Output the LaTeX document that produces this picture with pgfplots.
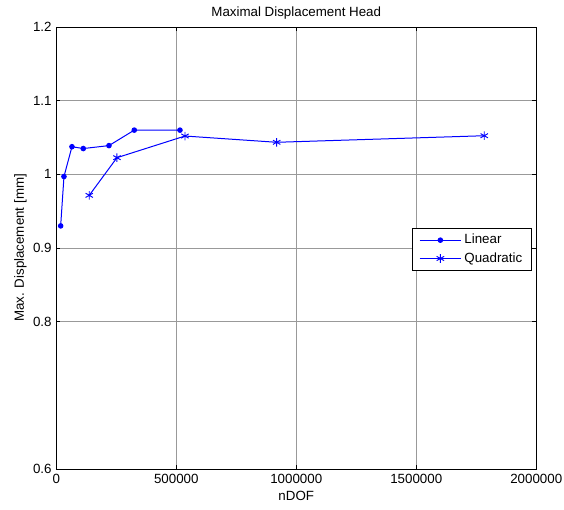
\documentclass[border=0pt]{standalone}
\usepackage{fontspec}
\setmainfont{Liberation Sans}
\usepackage{pgfplots}
\pgfplotsset{compat=1.18}

% Mesh convergence: maximal head displacement vs. number of DOF
\pgfplotstableread{
ndof    disp
18300   0.930
32100   0.997
65400   1.0375
112500  1.035
219600  1.039
325000  1.060
515400  1.060
}\linear

\pgfplotstableread{
ndof    disp
137500  0.9715
252900  1.0226
536300  1.052
918300  1.0435
1783300 1.0524
}\quadratic

\begin{document}
\begin{tikzpicture}
\begin{axis}[
  scale only axis,
  width=360pt, height=331.5pt,
  xmin=0, xmax=2000000,
  ymin=0.6, ymax=1.2,
  xtick={0,500000,1000000,1500000,2000000},
  xticklabels={0,500000,1000000,1500000,2000000},
  ytick={0.6,0.8,0.9,1,1.1,1.2},
  yticklabels={0.6,0.8,0.9,1,1.1,1.2},
  scaled x ticks=false,
  tick align=inside,
  xtick pos=both, ytick pos=both,
  major tick length=3pt,
  tick style={black, line width=0.5pt},
  grid=major,
  major grid style={gray!80, line width=0.5pt},
  axis line style={black, line width=0.7pt},
  /pgf/number format/assume math mode=true,
  font=\fontsize{10}{12}\selectfont,
  ticklabel style={font=\fontsize{10}{12}\selectfont},
  title={Maximal Displacement Head},
  title style={at={(0.5,1)}, anchor=south, yshift=-4pt},
  xlabel={nDOF},
  ylabel={Max. Displacement [mm]},
  xlabel style={yshift=1pt},
  ylabel style={yshift=-2pt},
  legend style={at={(0.991,0.497)}, anchor=east, draw=black, line width=0.6pt,
    font=\fontsize{10}{12}\selectfont, inner xsep=5pt, inner ysep=2.5pt, row sep=1pt},
  legend image code/.code={%
    \draw[mark repeat=2, mark phase=2]
      plot coordinates {(0cm,0cm) (0.55cm,0cm) (1.1cm,0cm)};},
  legend cell align=left,
]
\addplot[blue, line width=0.75pt, mark=*, mark size=1.7pt] table[x=ndof, y=disp] {\linear};
\addlegendentry{Linear}
\addplot[blue, line width=0.75pt, mark=asterisk, mark size=3.2pt, mark options={line width=0.7pt}] table[x=ndof, y=disp] {\quadratic};
\addlegendentry{Quadratic}
\end{axis}
\pgfresetboundingbox
\path[use as bounding box]
  ([xshift=-42.2pt, yshift=-30.75pt]current axis.south west)
  rectangle ([xshift=20.8pt, yshift=20.25pt]current axis.north east);
\end{tikzpicture}
\end{document}
